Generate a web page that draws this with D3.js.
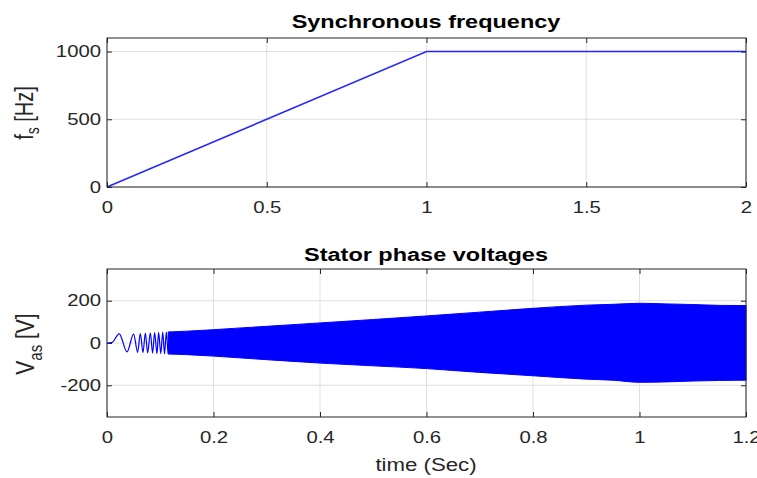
<!DOCTYPE html>
<html>
<head>
<meta charset="utf-8">
<script src="https://cdn.jsdelivr.net/npm/d3@7"></script>
<style>
  body { margin: 0; background: #fff; }
  text { font-family: "Liberation Sans", Arial, sans-serif; }
</style>
</head>
<body>
<script>
// Synchronous frequency (top plot)
var freqTime = [0, 1, 2]
var freqValue = [0, 1000, 1000]
var freqTicksX = [0, 0.5, 1, 1.5, 2]
var freqTicksY = [0, 500, 1000]

// Stator phase voltage: early visible swings (peaks / troughs)
var swingTime = [0, 0.009, 0.023, 0.0376, 0.050, 0.0575, 0.0626, 0.0676, 0.072, 0.0763,
    0.0814, 0.0857, 0.0894, 0.0939, 0.0969, 0.101, 0.1047, 0.108, 0.1115, 0.115, 0.118, 0.121]
var swingValue = [0, 2, 43, -42, 42, -44, 45, -45, 47, -47,
    48, -48, 49, -50, 50, -50, 51, -51, 52, -52, 53, -53]

// dense part: envelope of the oscillation
var envTime = [0.115, 0.15, 0.2, 0.3, 0.4, 0.5, 0.6, 0.65, 0.7, 0.8, 0.9, 0.95, 1.0, 1.05, 1.1, 1.15, 1.2]
var envUpper = [52, 56, 63, 79, 95, 111, 128, 137, 146, 164, 179, 183, 188, 185, 182, 178, 177]
var envLower = [-52, -55, -62, -79, -95, -108, -121, -130, -139, -155, -171, -176, -186, -184, -180, -177, -176]
var voltTicksX = [0, 0.2, 0.4, 0.6, 0.8, 1, 1.2]
var voltTicksY = [-200, 0, 200]

function main() {
    var width = 757, height = 478
    var stretch = 1.27   // the picture's text is wider than normal
    var axisColor = '#262626', gridColor = '#dfdfdf', blue = '#0000ff'

    var svg = d3.select('body').append('svg')
        .attr('width', width)
        .attr('height', height)

    var left = 107, right = 746

    // Set up one MATLAB-like panel.
    function panel(top, bottom, xDomain, yDomain, xTicks, yTicks) {
        var x = d3.scaleLinear().domain(xDomain).range([left, right])
        var y = d3.scaleLinear().domain(yDomain).range([bottom, top])
        var g = svg.append('g')
        var fmt = d => String(d)

        // grid
        g.selectAll('.gx').data(xTicks).enter().append('line')
            .attr('x1', d => x(d)).attr('x2', d => x(d))
            .attr('y1', top).attr('y2', bottom)
            .attr('stroke', gridColor)
        g.selectAll('.gy').data(yTicks).enter().append('line')
            .attr('x1', left).attr('x2', right)
            .attr('y1', d => y(d)).attr('y2', d => y(d))
            .attr('stroke', gridColor)

        // axes (ticks pointing inward)
        var ax = g.append('g').attr('transform', `translate(0,${bottom})`)
            .call(d3.axisBottom(x).tickValues(xTicks).tickSize(-5).tickPadding(15).tickFormat(fmt))
        var axTop = g.append('g').attr('transform', `translate(0,${top})`)
            .call(d3.axisTop(x).tickValues(xTicks).tickSize(-5).tickFormat(''))
        var ay = g.append('g').attr('transform', `translate(${left},0)`)
            .call(d3.axisLeft(y).tickValues(yTicks).tickSize(-5).tickPadding(6).tickFormat(fmt))
        var ayRight = g.append('g').attr('transform', `translate(${right},0)`)
            .call(d3.axisRight(y).tickValues(yTicks).tickSize(-5).tickFormat(''))

        ;[ax, axTop, ay, ayRight].forEach(function (a) {
            a.select('.domain').remove()
            a.selectAll('line').attr('stroke', axisColor)
            a.selectAll('text')
                .attr('fill', axisColor)
                .style('font-size', '16px')
                .style('font-family', '"Liberation Sans", Arial, sans-serif')
        })
        ax.selectAll('text').attr('transform', `scale(${stretch},1)`)
        ay.selectAll('text')
            .attr('x', -6 / stretch)
            .attr('transform', `scale(${stretch},1)`)

        // data goes above the grid and ticks
        var marks = g.append('g')

        // box
        g.append('rect')
            .attr('x', left).attr('y', top)
            .attr('width', right - left).attr('height', bottom - top)
            .attr('fill', 'none')
            .attr('stroke', axisColor)

        return { x: x, y: y, marks: marks }
    }

    function label(x, y, str, size, weight, rotate) {
        var t = svg.append('text')
            .attr('transform', `translate(${x},${y}) scale(${stretch},1)` + (rotate ? ' rotate(-90)' : ''))
            .attr('text-anchor', 'middle')
            .style('font-size', size + 'px')
            .style('font-weight', weight)
            .attr('fill', weight == 'bold' ? '#000' : axisColor)
        if (str) t.text(str)
        return t
    }

    // Top: synchronous frequency
    var p1 = panel(38, 187, [0, 2], [0, 1100], freqTicksX, freqTicksY)
    p1.marks.append('path')
        .datum(freqTime.map((t, i) => [t, freqValue[i]]))
        .attr('fill', 'none')
        .attr('stroke', blue)
        .attr('stroke-width', 1.6)
        .attr('stroke-opacity', 0.85)
        .attr('d', d3.line().x(d => p1.x(d[0])).y(d => p1.y(d[1])))

    label(426, 28, 'Synchronous frequency', 18.5, 'bold')
    var fl = label(33, 113, null, 20, 'normal', true)
    fl.append('tspan').text('f')
    fl.append('tspan').text('s').style('font-size', '14px').attr('dy', 5)
    fl.append('tspan').text(' [Hz]').attr('dy', -5)

    // Bottom: stator phase voltages
    var p2 = panel(269, 417, [0, 1.2], [-350, 350], voltTicksX, voltTicksY)
    p2.marks.append('path')
        .datum(envTime.map((t, i) => [t, envLower[i], envUpper[i]]))
        .attr('fill', blue)
        .attr('stroke', blue)
        .attr('stroke-width', 1)
        .attr('d', d3.area()
            .curve(d3.curveMonotoneX)
            .x(d => p2.x(d[0]))
            .y0(d => p2.y(d[1]))
            .y1(d => p2.y(d[2])))
    p2.marks.append('path')
        .datum(swingTime.map((t, i) => [t, swingValue[i]]))
        .attr('fill', 'none')
        .attr('stroke', blue)
        .attr('stroke-width', 1.2)
        .attr('d', d3.line().curve(d3.curveMonotoneX).x(d => p2.x(d[0])).y(d => p2.y(d[1])))

    label(426, 261, 'Stator phase voltages', 18.5, 'bold')
    label(426, 471, 'time (Sec)', 17.5, 'normal')
    var vl = label(34, 344, null, 21, 'normal', true)
    vl.append('tspan').text('V')
    vl.append('tspan').text('as').style('font-size', '15px').attr('dy', 6)
    vl.append('tspan').text(' [V]').attr('dy', -6)
}

main()
</script>
</body>
</html>
